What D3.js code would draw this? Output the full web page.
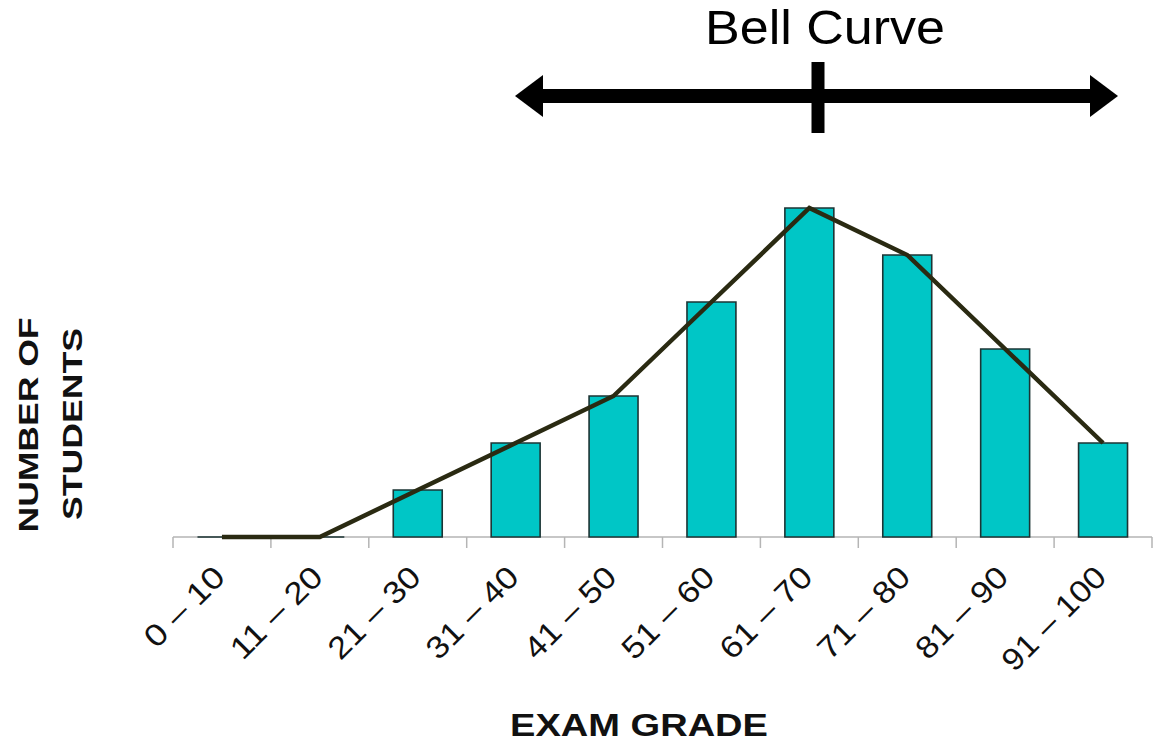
<!DOCTYPE html>
<html><head><meta charset="utf-8">
<script src="https://cdn.jsdelivr.net/npm/d3@7"></script>
<style>html,body{margin:0;padding:0;background:#fff;}svg{display:block;}</style>
</head><body>
<script>
const categories = ["0 – 10","11 – 20","21 – 30","31 – 40","41 – 50","51 – 60","61 – 70","71 – 80","81 – 90","91 – 100"];
const students = [0,0,1,2,3,5,7,6,4,2];
const curve = [0,0,1,2,3,5,7,6,4,2];
const yDomain = [0,8];

const W=1155,H=743;
const svg=d3.select("body").append("svg").attr("width",W).attr("height",H);
const x=d3.scaleBand().domain(categories).range([173,1152]).paddingInner(0).paddingOuter(0);
const y=d3.scaleLinear().domain(yDomain).range([537,161]);
const bw=x.bandwidth()*0.5;

// axis
const ax=svg.append("g").attr("transform","translate(0,537)");
ax.append("line").attr("x1",173).attr("x2",1152).attr("stroke","#b5b5b5").attr("stroke-width",1.5);
const edges=categories.map(c=>x(c)).concat([x.range()[1]]);
ax.selectAll("line.t").data(edges).join("line").attr("class","t")
  .attr("x1",d=>d).attr("x2",d=>d).attr("y1",0).attr("y2",11)
  .attr("stroke","#b5b5b5").attr("stroke-width",1.5);

// bars
svg.selectAll("path.bar").data(categories).join("path").attr("class","bar")
  .attr("d",(c,i)=>{const x0=x(c)+(x.bandwidth()-bw)/2, y0=y(0), y1=y(students[i]);
     return `M${x0},${y0}H${x0+bw}V${y1}H${x0}Z`;})
  .attr("fill","#00c6c6").attr("stroke","#1c3434").attr("stroke-width",1.6);

// line
const line=d3.line().x((d,i)=>x(categories[i])+x.bandwidth()/2).y(d=>y(d));
svg.append("path").datum(curve).attr("d",line).attr("fill","none")
  .attr("stroke","#2a2a12").attr("stroke-width",4.5).attr("stroke-linejoin","miter");

// tick labels
svg.selectAll("text.lab").data(categories).join("text").attr("class","lab")
  .attr("transform",c=>`translate(${x(c)+x.bandwidth()/2+5},${579}) rotate(-45)`)
  .attr("text-anchor","end")
  .attr("font-family","Liberation Sans, Arial, sans-serif").attr("font-size",31).attr("fill","#111")
  .attr("textLength",c=>c.length*16.6).attr("lengthAdjust","spacingAndGlyphs")
  .text(c=>c);

// axis titles
svg.append("text").attr("x",639).attr("y",736).attr("text-anchor","middle")
  .attr("font-family","Liberation Sans, Arial, sans-serif").attr("font-weight","bold").attr("font-size",31)
  .attr("textLength",258).attr("lengthAdjust","spacingAndGlyphs").attr("fill","#111").text("EXAM GRADE");
const yl=svg.append("g").attr("font-family","Liberation Sans, Arial, sans-serif").attr("font-weight","bold")
  .attr("font-size",27).attr("fill","#111").attr("text-anchor","middle");
yl.append("text").attr("transform","translate(38,425) rotate(-90)").attr("textLength",215).attr("lengthAdjust","spacingAndGlyphs").text("NUMBER OF");
yl.append("text").attr("transform","translate(82,424) rotate(-90)").attr("textLength",192).attr("lengthAdjust","spacingAndGlyphs").text("STUDENTS");

// title and arrow
svg.append("text").attr("x",825).attr("y",44).attr("text-anchor","middle")
  .attr("font-family","Liberation Sans, Arial, sans-serif").attr("font-size",48)
  .attr("textLength",240).attr("lengthAdjust","spacingAndGlyphs").attr("fill","#000").text("Bell Curve");
const g=svg.append("g").attr("fill","#000");
g.append("rect").attr("x",540).attr("y",89).attr("width",552).attr("height",14);
g.append("path").attr("d","M515,96L543,75V117Z");
g.append("path").attr("d","M1118,96L1090,75V117Z");
g.append("rect").attr("x",811.5).attr("y",62).attr("width",13).attr("height",71);
</script>
</body></html>
